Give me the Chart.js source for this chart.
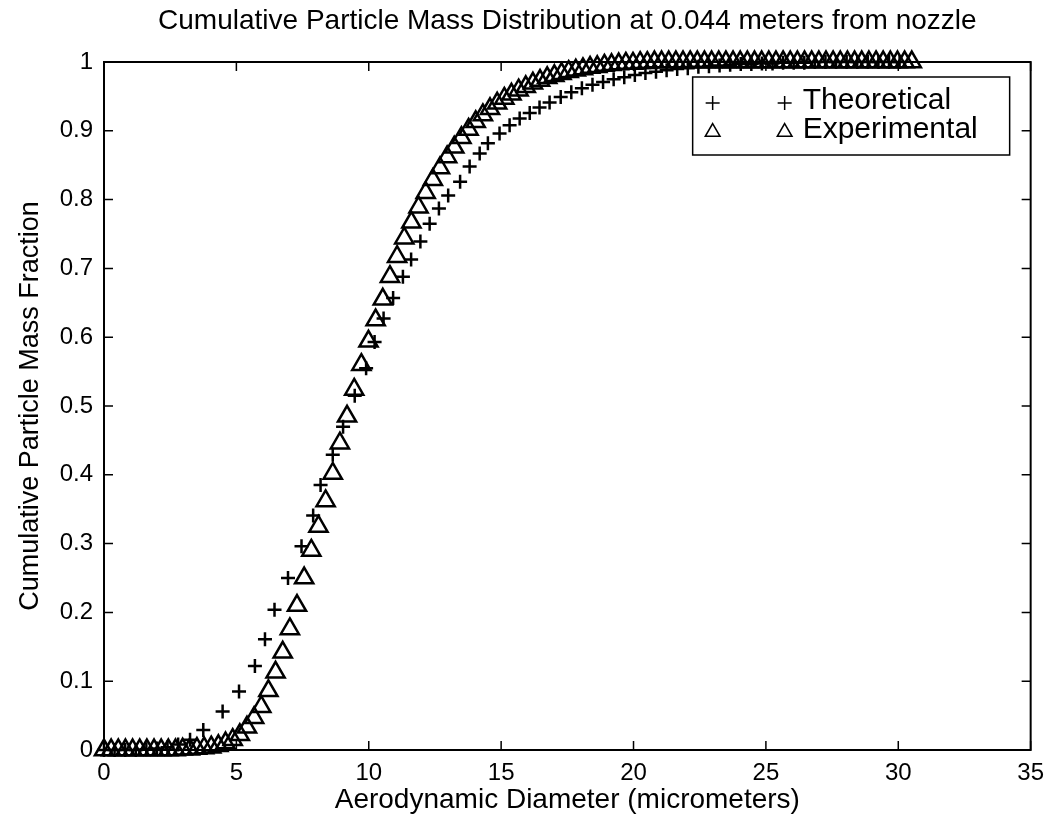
<!DOCTYPE html>
<html>
<head>
<meta charset="utf-8">
<title>Cumulative Particle Mass Distribution</title>
<script src="https://cdn.jsdelivr.net/npm/chart.js@4.4.1/dist/chart.umd.min.js"></script>
<style>
  html, body { margin: 0; padding: 0; background: #fff; }
  #wrap { width: 1053px; height: 820px; }
</style>
</head>
<body>
<div id="wrap"><canvas id="cpmd" width="1053" height="820"></canvas></div>
<script>
// ── values ──────────────────────────────────────────────────────────────────
const theoX = [
  0.00, 0.40, 0.80, 1.20, 1.60, 2.00, 2.40, 2.80, 3.25, 3.75,
  4.48, 5.10, 5.70, 6.08, 6.44, 6.95, 7.46, 7.90, 8.18, 8.64,
  9.03, 9.47, 9.90, 10.22, 10.56, 10.92, 11.29, 11.60, 11.95, 12.30,
  12.65, 13.00, 13.45, 13.81, 14.19, 14.50, 14.94, 15.32, 15.70, 16.08,
  16.45, 16.83, 17.25, 17.65, 18.05, 18.45, 18.85, 19.25, 19.65, 20.05,
  20.45, 20.85, 21.25, 21.65, 22.05, 22.45, 22.85, 23.25, 23.65, 24.05,
  24.45, 24.85, 25.25, 25.65, 26.05, 26.45, 26.85, 27.25, 27.65, 28.05,
  28.45, 28.85, 29.25, 29.65, 30.05
];
const theoY = [
  0, 0, 0, 0, 0.001, 0.002, 0.004, 0.008, 0.015, 0.029,
  0.056, 0.085, 0.122, 0.161, 0.204, 0.250, 0.296, 0.341, 0.385, 0.429,
  0.470, 0.515, 0.555, 0.593, 0.627, 0.657, 0.688, 0.713, 0.739, 0.765,
  0.787, 0.806, 0.826, 0.848, 0.867, 0.882, 0.896, 0.908, 0.918, 0.926,
  0.934, 0.941, 0.949, 0.956, 0.962, 0.967, 0.971, 0.975, 0.978, 0.981,
  0.984, 0.986, 0.988, 0.990, 0.991, 0.993, 0.994, 0.995, 0.996, 0.997,
  0.997, 0.998, 0.998, 0.999, 0.999, 0.999, 1, 1, 1, 1,
  1, 1, 1, 1, 1
];
const expX = [
  0.00, 0.27, 0.54, 0.81, 1.08, 1.35, 1.62, 1.89, 2.16, 2.43,
  2.70, 2.97, 3.24, 3.51, 3.78, 4.05, 4.32, 4.59, 4.86, 5.13,
  5.40, 5.67, 5.94, 6.21, 6.48, 6.75, 7.02, 7.29, 7.56, 7.83,
  8.10, 8.37, 8.64, 8.91, 9.18, 9.45, 9.72, 9.99, 10.26, 10.53,
  10.80, 11.07, 11.34, 11.61, 11.88, 12.15, 12.42, 12.69, 12.96, 13.23,
  13.50, 13.77, 14.04, 14.31, 14.58, 14.85, 15.12, 15.39, 15.66, 15.93,
  16.20, 16.47, 16.74, 17.01, 17.28, 17.55, 17.82, 18.09, 18.36, 18.63,
  18.90, 19.17, 19.44, 19.71, 19.98, 20.25, 20.52, 20.79, 21.06, 21.33,
  21.60, 21.87, 22.14, 22.41, 22.68, 22.95, 23.22, 23.49, 23.76, 24.03,
  24.30, 24.57, 24.84, 25.11, 25.38, 25.65, 25.92, 26.19, 26.46, 26.73,
  27.00, 27.27, 27.54, 27.81, 28.08, 28.35, 28.62, 28.89, 29.16, 29.43,
  29.70, 29.97, 30.24, 30.51
];
const expY = [
  0, 0, 0, 0, 0, 0, 0, 0, 0, 0,
  0, 0.001, 0.001, 0.002, 0.003, 0.004, 0.006, 0.010, 0.015, 0.022,
  0.033, 0.047, 0.063, 0.086, 0.113, 0.142, 0.176, 0.210, 0.250, 0.290,
  0.325, 0.362, 0.402, 0.446, 0.485, 0.524, 0.560, 0.594, 0.625, 0.655,
  0.688, 0.717, 0.744, 0.767, 0.789, 0.810, 0.829, 0.846, 0.862, 0.876,
  0.890, 0.902, 0.913, 0.923, 0.932, 0.940, 0.947, 0.953, 0.959, 0.964,
  0.969, 0.973, 0.977, 0.980, 0.983, 0.986, 0.988, 0.990, 0.992, 0.993,
  0.995, 0.996, 0.997, 0.998, 0.998, 0.999, 0.999, 1, 1, 1,
  1, 1, 1, 1, 1, 1, 1, 1, 1, 1,
  1, 1, 1, 1, 1, 1, 1, 1, 1, 1,
  1, 1, 1, 1, 1, 1, 1, 1, 1, 1,
  1, 1, 1, 1
];
const seriesNames = ['Theoretical', 'Experimental'];
const xTicks      = [0, 5, 10, 15, 20, 25, 30, 35];
const yTicks      = [0, 0.1, 0.2, 0.3, 0.4, 0.5, 0.6, 0.7, 0.8, 0.9, 1];
const yTickLabels = ['0', '0.1', '0.2', '0.3', '0.4', '0.5', '0.6', '0.7', '0.8', '0.9', '1'];
const chartTitle  = 'Cumulative Particle Mass Distribution at 0.044 meters from nozzle';

const FONT = '"Liberation Sans", Arial, Helvetica, sans-serif';

// ── title centred over the axes box (not the whole canvas), like MATLAB ─────
const axesTitle = {
  id: 'axesTitle',
  afterDraw(chart) {
    const { ctx, chartArea: a } = chart;
    ctx.save();
    ctx.fillStyle = '#000';
    ctx.font = `28px ${FONT}`;
    ctx.textAlign = 'center';
    ctx.textBaseline = 'middle';
    ctx.fillText(chartTitle, (a.left + a.right) / 2, a.top - 41);
    ctx.restore();
  }
};

// ── MATLAB-ish box with inward ticks on all four sides ───────────────────────
const frameTicks = {
  id: 'frameTicks',
  afterDatasetsDraw(chart) {
    const { ctx, chartArea: a, scales: { x, y } } = chart;
    const len = 9;
    ctx.save();
    ctx.strokeStyle = '#000';
    ctx.lineWidth = 1.5;
    ctx.beginPath();
    xTicks.forEach(v => {
      const px = x.getPixelForValue(v);
      ctx.moveTo(px, a.bottom); ctx.lineTo(px, a.bottom - len);
      ctx.moveTo(px, a.top);    ctx.lineTo(px, a.top + len);
    });
    yTicks.forEach(v => {
      const py = y.getPixelForValue(v);
      ctx.moveTo(a.left, py);  ctx.lineTo(a.left + len, py);
      ctx.moveTo(a.right, py); ctx.lineTo(a.right - len, py);
    });
    ctx.stroke();
    ctx.lineWidth = 2;
    ctx.strokeRect(a.left, a.top, a.right - a.left, a.bottom - a.top);
    ctx.restore();
  }
};

// ── legend box: marker, gap, marker, label ───────────────────────────────────
const boxLegend = {
  id: 'boxLegend',
  afterDraw(chart) {
    const { ctx, chartArea: a } = chart;
    const left = a.right - 338, top = a.top + 15, w = 317, h = 78;
    ctx.save();
    ctx.fillStyle = '#fff';
    ctx.fillRect(left, top, w, h);
    ctx.strokeStyle = '#000';
    ctx.lineWidth = 1.5;
    ctx.strokeRect(left, top, w, h);
    chart.data.datasets.forEach((ds, i) => {
      const yy = top + 26 + i * 29;
      ctx.strokeStyle = '#000';
      ctx.fillStyle = 'rgba(0,0,0,0)';
      [left + 20, left + 92].forEach(xx => {
        Chart.helpers.drawPoint(ctx, {
          pointStyle: ds.pointStyle,
          radius: ds.pointStyle === 'triangle' ? 8.5 : 7,
          borderWidth: 2.5,
          rotation: 0,
        }, xx, yy);
      });
      ctx.fillStyle = '#000';
      ctx.font = `30px ${FONT}`;
      ctx.textBaseline = 'middle';
      ctx.textAlign = 'left';
      ctx.fillText(ds.label, left + 110, yy - 2);
    });
    ctx.restore();
  }
};

new Chart(document.getElementById('cpmd'), {
  type: 'scatter',
  data: {
    datasets: [
      {
        label: seriesNames[0],
        data: theoX.map((x, i) => ({ x, y: theoY[i] })),
        pointStyle: 'cross', pointRadius: 7, borderWidth: 2.5,
        borderColor: '#000', backgroundColor: '#000', clip: false,
      },
      {
        label: seriesNames[1],
        data: expX.map((x, i) => ({ x, y: expY[i] })),
        pointStyle: 'triangle', pointRadius: 10.5, borderWidth: 2.5,
        borderColor: '#000', backgroundColor: 'rgba(0,0,0,0)', clip: false,
      },
    ]
  },
  options: {
    responsive: false,
    animation: false,
    layout: { padding: { left: 0, right: 22, top: 62, bottom: 0 } },
    plugins: {
      legend: { display: false },
      tooltip: { enabled: false },
      title: { display: false },
    },
    scales: {
      x: {
        type: 'linear', min: 0, max: 35,
        afterBuildTicks: s => { s.ticks = xTicks.map(v => ({ value: v })); },
        afterFit: s => { s.height = 70; },
        grid: { display: false, drawTicks: false },
        border: { display: false },
        ticks: { color: '#000', padding: 9, maxRotation: 0, autoSkip: false,
                 font: { family: FONT, size: 24 } },
        title: { display: true, text: 'Aerodynamic Diameter (micrometers)', color: '#000',
                 font: { family: FONT, size: 28 }, padding: { bottom: 3 } },
      },
      y: {
        type: 'linear', min: 0, max: 1,
        afterBuildTicks: s => { s.ticks = yTicks.map(v => ({ value: v })); },
        afterFit: s => { s.width = 104; },
        grid: { display: false, drawTicks: false },
        border: { display: false },
        ticks: { color: '#000', padding: 11, autoSkip: false,
                 font: { family: FONT, size: 24 },
                 callback: (v, i) => yTickLabels[i] },
        title: { display: true, text: 'Cumulative Particle Mass Fraction', color: '#000',
                 font: { family: FONT, size: 27 }, padding: { top: 14 } },
      },
    },
  },
  plugins: [frameTicks, boxLegend, axesTitle],
});
</script>
</body>
</html>
